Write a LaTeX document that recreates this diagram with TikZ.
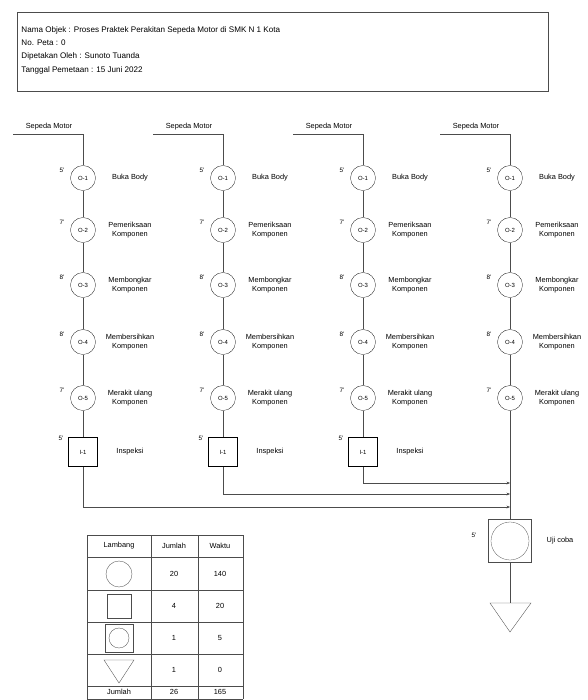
\documentclass[tikz,border=0pt]{standalone}
\usepackage{fontspec}
\setmainfont{Liberation Sans}
\usetikzlibrary{arrows.meta}

\tikzset{
  opr/.style={draw, circle, minimum size=12.5mm, inner sep=0pt, font=\fontsize{8.5}{10}\selectfont},
  insp/.style={draw, rectangle, minimum size=14.5mm, inner sep=0pt, font=\fontsize{8.5}{10}\selectfont},
  ket/.style={align=center, font=\fontsize{10.5}{12.5}\selectfont},
  wkt/.style={font=\fontsize{9}{10}\selectfont},
  gar/.style={draw=black!70, line width=0.5pt},
}

\begin{document}
\begin{tikzpicture}[x=0.5mm, y=-0.5mm, every node/.style={font=\fontsize{10.5}{12}\selectfont}]
    \useasboundingbox (0,0) rectangle (588,700);

    % kepala peta
    \draw[gar] (17,12) rectangle (548,91);
    \node[anchor=west, font=\fontsize{11.5}{13}\selectfont] (nama) at (19,30) {Nama Objek : Proses Praktek Perakitan Sepeda Motor di SMK N 1 Kota};
    \node[anchor=west, font=\fontsize{11.5}{13}\selectfont] (nopeta) at (19,43) {No. Peta : 0};
    \node[anchor=west, font=\fontsize{11.5}{13}\selectfont] (oleh) at (19,56) {Dipetakan Oleh : Sunoto Tuanda};
    \node[anchor=west, font=\fontsize{11.5}{13}\selectfont] (tgl) at (19,70) {Tanggal Pemetaan : 15 Juni 2022};

    % empat lajur sepeda motor
    \foreach \k/\cx in {1/83, 2/223, 3/363, 4/510} {
        \coordinate (m\k) at (\cx-70,134);
        \coordinate (k\k) at (\cx,134);
        \node (sm\k) at (\cx-34,127) {Sepeda Motor};
        \foreach \i/\y/\t/\isi in {1/178/5/{Buka Body}, 2/230/7/{Pemeriksaan\\Komponen},
                3/285/8/{Membongkar\\Komponen}, 4/342/8/{Membersihkan\\Komponen},
                5/398/7/{Merakit ulang\\Komponen}} {
            \node[opr] (o\k-\i) at (\cx,\y) {O-\i};
            \node[wkt] (w\k-\i) at (\cx-21,\y-8) {\t'};
            \node[ket] (t\k-\i) at (\cx+47,\y) {\isi};
        }
        \draw[gar] (m\k) -- (k\k) -- (o\k-1);
        \draw[gar] (o\k-1) -- (o\k-2) -- (o\k-3) -- (o\k-4) -- (o\k-5);
    }

    % inspeksi tiap lajur
    \foreach \k/\cx/\ya in {1/83/507, 2/223/494, 3/363/483} {
        \node[insp] (i\k) at (\cx,452) {I-1};
        \node[wkt] (wi\k) at (\cx-22,438) {5'};
        \node[ket] (ti\k) at (\cx+47,452) {Inspeksi};
        \coordinate (e\k) at (510,\ya);
        \draw[gar] (o\k-5) -- (i\k);
        \draw[gar, -{Stealth[length=5pt,width=4pt]}] (i\k) |- (e\k);
    }

    % uji coba dan penyimpanan
    \node[draw=black!70, rectangle, minimum size=21.5mm, inner sep=0pt] (uji) at (510,541) {};
    \node[draw=black!70, circle, minimum size=19mm, inner sep=0pt] (ujic) at (510,541) {};
    \node[wkt] (wuji) at (474,535) {5'};
    \node[ket] (tuji) at (560,541) {Uji coba};
    \coordinate (simpan) at (510,603);
    \draw[gar] (o4-5) -- (uji);
    \draw[gar] (uji) -- (simpan);
    \draw[gar] (490,603) -- (531,603) -- (510,632) -- cycle;

    % tabel ringkasan
    \foreach \y in {535,557,590,622,654,686,699} {
        \draw[gar] (87,\y) -- (243,\y);
    }
    \foreach \x in {87,151,198,243} {
        \draw[gar] (\x,535) -- (\x,699);
    }
    \node (hl) at (119,546) {Lambang};
    \node (hj) at (174,546) {Jumlah};
    \node (hw) at (220,546) {Waktu};
    \draw[gar] (119,574) circle (13);
    \draw[gar] (107,594) rectangle (131,618);
    \draw[gar] (105,624) rectangle (133,652);
    \draw[gar] (119,638) circle (10);
    \draw[gar] (104,660) -- (134,660) -- (119,683) -- cycle;
    \foreach \y/\j/\w in {574/20/140, 606/4/20, 638/1/5, 670/1/0} {
        \node (j\j-\y) at (174,\y) {\j};
        \node (w\w-\y) at (220,\y) {\w};
    }
    \node (tot) at (119,692) {Jumlah};
    \node (totj) at (174,692) {26};
    \node (totw) at (220,692) {165};
\end{tikzpicture}
\end{document}
